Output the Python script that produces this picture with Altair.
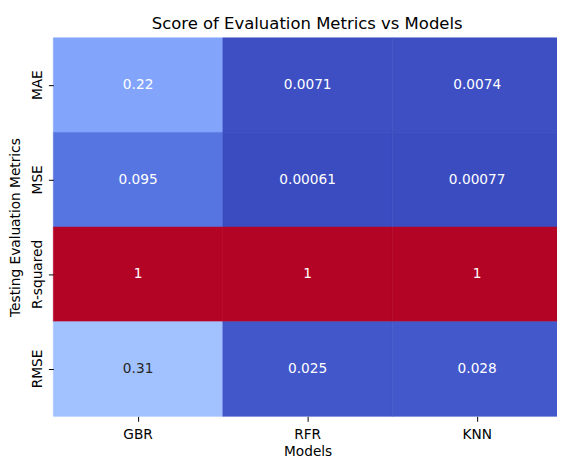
import altair as alt
import pandas as pd

models = ["GBR", "RFR", "KNN"]
metrics = ["MAE", "MSE", "R-squared", "RMSE"]
gbr_scores = [0.22, 0.095, 1.0, 0.31]
rfr_scores = [0.0071, 0.00061, 1.0, 0.025]
knn_scores = [0.0074, 0.00077, 1.0, 0.028]

# coolwarm colormap stops (Moreland)
cw_stops = [i / 32 for i in range(33)]
cw_colors = [
    "#3b4cc0", "#445acc", "#4d68d7", "#5775e1", "#6282ea", "#6c8ef1", "#779af7", "#82a5fb",
    "#8db0fe", "#98b9ff", "#a3c2ff", "#aec9fd", "#b8d0f9", "#c2d5f4", "#ccd9ee", "#d5dbe6",
    "#dddddd", "#e5d8d1", "#ecd3c5", "#f1ccb8", "#f5c4ac", "#f7bba0", "#f7b194", "#f7a687",
    "#f49a7b", "#f18d6f", "#ec7f63", "#e57058", "#de604d", "#d55042", "#cb3e38", "#c0282f",
    "#b40426",
]

rows = []
for model, vals in zip(models, [gbr_scores, rfr_scores, knn_scores]):
    for metric, v in zip(metrics, vals):
        rows.append({"model": model, "metric": metric, "score": v, "label": format(v, ".2g")})
df = pd.DataFrame(rows)

vmin = df["score"].min()
vmax = df["score"].max()
domain = [vmin + s * (vmax - vmin) for s in cw_stops]
cscale = alt.Scale(domain=domain, range=cw_colors, interpolate="rgb")

x = alt.X(
    "model:N", sort=models, title="Models",
    scale=alt.Scale(range=[0, 516], paddingInner=0, paddingOuter=0),
    axis=alt.Axis(labelAngle=0, labelBaseline="alphabetic", labelPadding=17,
                  titleX=258, titleY=40, titleBaseline="alphabetic", titleAlign="center"),
)
y = alt.Y(
    "metric:N", sort=metrics, title="Testing Evaluation Metrics",
    scale=alt.Scale(paddingInner=0, paddingOuter=0),
    axis=alt.Axis(labelAngle=270, labelAlign="center", labelBaseline="alphabetic",
                  labelPadding=7, titleX=-34, titleY=192, titleAngle=270,
                  titleBaseline="alphabetic", titleAlign="center"),
)

rect = alt.Chart(df).mark_rect(strokeWidth=0.6).encode(
    x=x, y=y,
    color=alt.Color("score:Q", scale=cscale, legend=None),
    stroke=alt.Stroke("score:Q", scale=cscale, legend=None),
)
text = alt.Chart(df).mark_text(font="DejaVu Sans", fontSize=13.9).encode(
    x=x, y=y,
    text="label:N",
    color=alt.condition("datum.score > 0.27 && datum.score < 0.75", alt.value("#262626"), alt.value("white")),
)

chart = alt.layer(rect, text).properties(
    width=511, height=384,
    title=alt.TitleParams("Score of Evaluation Metrics vs Models", font="DejaVu Sans", fontSize=16.7,
                          fontWeight="normal", color="black", anchor="middle", offset=5, dx=2),
    autosize=alt.AutoSizeParams(type="none"),
    padding={"left": 46, "top": 27, "right": 0, "bottom": 42},
).configure_view(stroke=None).configure_axis(
    labelFont="DejaVu Sans", titleFont="DejaVu Sans", labelFontSize=13.9, titleFontSize=13.9,
    labelColor="black", titleColor="black", titleFontWeight="normal",
    domain=False, grid=False, tickColor="black", tickSize=5, tickWidth=1,
)

chart.save("out.html", embed_options={"renderer": "svg", "actions": False})
